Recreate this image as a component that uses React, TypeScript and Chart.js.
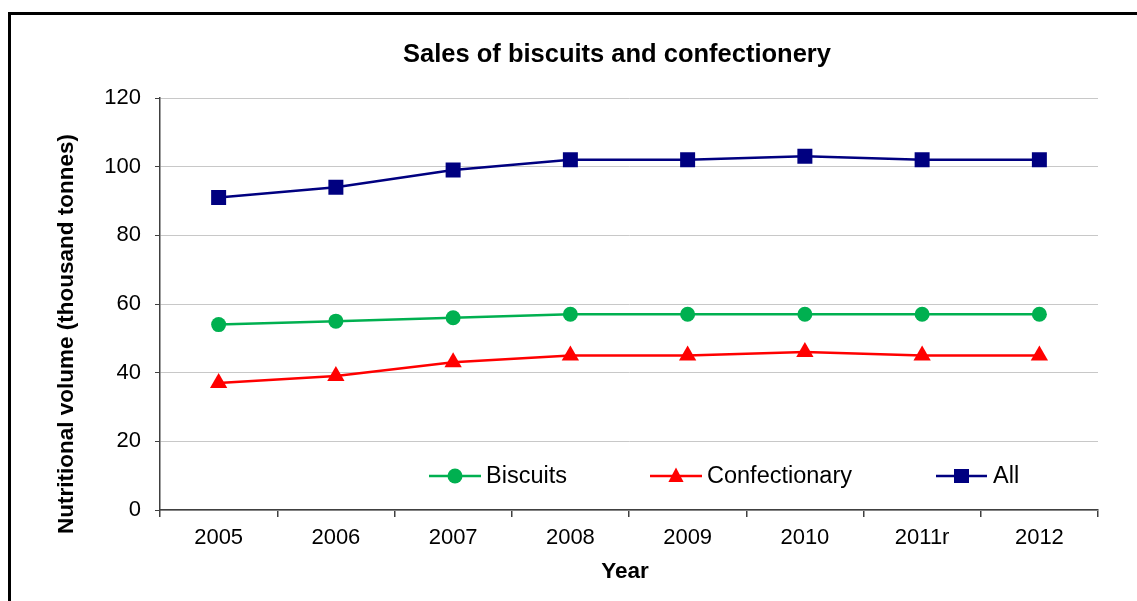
import React, { useEffect, useRef } from "react";
import { Chart, registerables } from "chart.js";

Chart.register(...registerables);

const years = ["2005", "2006", "2007", "2008", "2009", "2010", "2011r", "2012"];
const biscuits = [54, 55, 56, 57, 57, 57, 57, 57];
const confectionary = [37, 39, 43, 45, 45, 46, 45, 45];
const allSales = [91, 94, 99, 102, 102, 103, 102, 102];

const chartTitle = "Sales of biscuits and confectionery";
const yTitle = "Nutritional volume (thousand tonnes)";
const xTitle = "Year";

const FONT = "'Liberation Sans', Arial, Helvetica, sans-serif";
const GREEN = "#00B050";
const RED = "#FF0000";
const NAVY = "#000080";

function drawMarker(ctx: CanvasRenderingContext2D, style: string, x: number, y: number, color: string) {
  ctx.save();
  ctx.fillStyle = color;
  ctx.beginPath();
  if (style === "circle") {
    ctx.arc(x, y, 7.5, 0, Math.PI * 2);
  } else if (style === "triangle") {
    ctx.moveTo(x, y - 8.5);
    ctx.lineTo(x + 7.6, y + 6);
    ctx.lineTo(x - 7.6, y + 6);
    ctx.closePath();
  } else {
    ctx.rect(x - 7.5, y - 7, 15, 14);
  }
  ctx.fill();
  ctx.restore();
}

const textPlugin = {
  id: "textPlugin",
  afterDraw(chart: any) {
    const ctx: CanvasRenderingContext2D = chart.ctx;
    ctx.save();
    ctx.fillStyle = "#000";
    // Title
    ctx.font = `bold 25.5px ${FONT}`;
    ctx.textAlign = "center";
    ctx.textBaseline = "middle";
    ctx.fillText(chartTitle, 617, 55);
    // X title
    ctx.font = `bold 22.5px ${FONT}`;
    ctx.fillText(xTitle, 625, 572);
    // Y title
    ctx.save();
    ctx.translate(67, 334);
    ctx.rotate(-Math.PI / 2);
    ctx.fillText(yTitle, 0, 0);
    ctx.restore();

    // Legend
    const items = [
      { label: "Biscuits", color: GREEN, style: "circle", x0: 429, x1: 481, tx: 486 },
      { label: "Confectionary", color: RED, style: "triangle", x0: 650, x1: 702, tx: 707 },
      { label: "All", color: NAVY, style: "rect", x0: 936, x1: 987, tx: 993 },
    ];
    const ly = 476;
    ctx.font = `23.5px ${FONT}`;
    ctx.textAlign = "left";
    ctx.textBaseline = "middle";
    for (const it of items) {
      ctx.strokeStyle = it.color;
      ctx.lineWidth = 2.5;
      ctx.beginPath();
      ctx.moveTo(it.x0, ly);
      ctx.lineTo(it.x1, ly);
      ctx.stroke();
      drawMarker(ctx, it.style, (it.x0 + it.x1) / 2, ly, it.color);
      ctx.fillStyle = "#000";
      ctx.fillText(it.label, it.tx, ly + 1);
    }
    ctx.restore();
  },
};

export default function App() {
  const ref = useRef<HTMLCanvasElement | null>(null);

  useEffect(() => {
    if (!ref.current) return;
    const chart = new Chart(ref.current, {
      type: "line",
      data: {
        labels: years,
        datasets: [
          {
            label: "Biscuits",
            data: biscuits,
            borderColor: GREEN,
            backgroundColor: GREEN,
            borderWidth: 2.5,
            pointStyle: "circle",
            pointRadius: 7.5,
            pointBorderWidth: 0,
            tension: 0,
          },
          {
            label: "Confectionary",
            data: confectionary,
            borderColor: RED,
            backgroundColor: RED,
            borderWidth: 2.5,
            pointStyle: "triangle",
            pointRadius: 10,
            pointBorderWidth: 0,
            tension: 0,
          },
          {
            label: "All",
            data: allSales,
            borderColor: NAVY,
            backgroundColor: NAVY,
            borderWidth: 2.5,
            pointStyle: "rect",
            pointRadius: 10.6,
            pointBorderWidth: 0,
            tension: 0,
          },
        ],
      },
      options: {
        responsive: false,
        animation: false,
        devicePixelRatio: 1,
        layout: { padding: { top: 98, right: 39, left: 0, bottom: 0 } },
        plugins: {
          legend: { display: false },
          title: { display: false },
          tooltip: { enabled: false },
        },
        scales: {
          x: {
            offset: true,
            grid: {
              offset: true,
              drawOnChartArea: false,
              tickLength: 7,
              tickColor: "#404040",
              lineWidth: 1.5,
            },
            border: { color: "#404040", width: 1.5 },
            ticks: {
              color: "#000",
              font: { family: FONT, size: 22 },
              padding: 8,
              maxRotation: 0,
              autoSkip: false,
            },
            afterFit: (s: any) => {
              s.height = 91;
            },
          },
          y: {
            min: 0,
            max: 120,
            ticks: {
              stepSize: 20,
              color: "#000",
              font: { family: FONT, size: 22 },
              padding: 14,
            },
            grid: {
              color: "#c8c8c8",
              tickColor: "#404040",
              tickLength: 5,
              lineWidth: 1,
            },
            border: { color: "#404040", width: 1.5 },
            afterFit: (s: any) => {
              s.width = 160;
            },
          },
        },
      },
      plugins: [textPlugin],
    });
    return () => chart.destroy();
  }, []);

  return (
    <div
      style={{
        position: "fixed",
        left: 0,
        top: 0,
        width: 1137,
        height: 601,
        background: "#fff",
        overflow: "hidden",
      }}
    >
      <canvas ref={ref} width={1137} height={601} style={{ width: 1137, height: 601, display: "block" }} />
      <div
        style={{
          position: "absolute",
          left: 8,
          top: 12,
          width: 1400,
          height: 900,
          borderLeft: "3px solid #000",
          borderTop: "3px solid #000",
          pointerEvents: "none",
        }}
      />
    </div>
  );
}
